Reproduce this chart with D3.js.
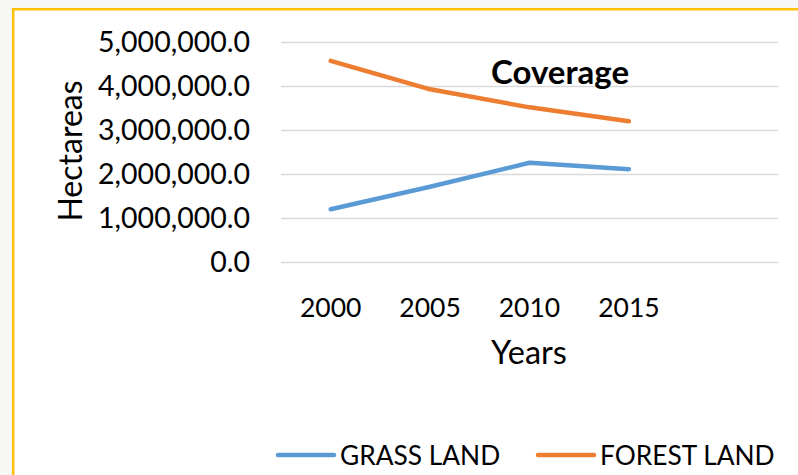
<!DOCTYPE html>
<html>
<head>
<meta charset="utf-8">
<script src="https://cdn.jsdelivr.net/npm/d3@7"></script>
<style>
html,body{margin:0;padding:0;background:#f7f8f5;}
svg{display:block;}
text{font-family:"Lato","Open Sans",sans-serif;fill:#000;}
</style>
</head>
<body>
<script>
const years = ["2000", "2005", "2010", "2015", ""];
const grassLand = [1200000, 1710000, 2255000, 2110000];
const forestLand = [4570000, 3925000, 3515000, 3200000];
const yTicks = [0, 1000000, 2000000, 3000000, 4000000, 5000000];
const seriesNames = ["GRASS LAND", "FOREST LAND"];
const seriesColors = ["#5b9bd5", "#ed7d31"];

const W = 798, H = 475;
const svg = d3.select("body").append("svg").attr("width", W).attr("height", H);

// chart area background & border
svg.append("rect").attr("x", 13.2).attr("y", 9.2).attr("width", W).attr("height", H)
  .attr("fill", "#fff").attr("stroke", "#ffc000").attr("stroke-width", 2.5);

const x = d3.scaleBand().domain(years).range([281, 778]);
const y = d3.scaleLinear().domain([0, 5000000]).range([262, 42]);

// gridlines
svg.append("g").selectAll("line").data(yTicks).join("line")
  .attr("x1", 281).attr("x2", 778)
  .attr("y1", d => Math.round(y(d)) + 0.5).attr("y2", d => Math.round(y(d)) + 0.5)
  .attr("stroke", "#d9d9d9").attr("stroke-width", 1.5);

// y tick labels
const fmt = d3.format(",.1f");
svg.append("g").selectAll("text").data(yTicks).join("text")
  .attr("x", 250).attr("y", d => y(d)).attr("dy", "0.36em")
  .attr("text-anchor", "end").attr("font-size", 28.5)
  .text(d => fmt(d));

// x tick labels
svg.append("g").selectAll("text").data(years.filter(d => d)).join("text")
  .attr("x", d => x(d) + x.bandwidth() / 2).attr("y", 317)
  .attr("text-anchor", "middle").attr("font-size", 26.5)
  .text(d => d);

// axis titles
svg.append("text").attr("x", 529).attr("y", 364).attr("text-anchor", "middle")
  .attr("font-size", 32.5).text("Years");
svg.append("text").attr("transform", "translate(82,151) rotate(-90)")
  .attr("text-anchor", "middle").attr("font-size", 32).text("Hectareas");

// lines
const line = d3.line().x((d, i) => x(years[i]) + x.bandwidth() / 2).y(d => y(d));
[grassLand, forestLand].forEach((s, k) => {
  svg.append("path").datum(s).attr("d", line)
    .attr("fill", "none").attr("stroke", seriesColors[k])
    .attr("stroke-width", 4.5).attr("stroke-linecap", "round").attr("stroke-linejoin", "round");
});

// title
svg.append("text").attr("x", 560).attr("y", 84).attr("text-anchor", "middle")
  .attr("font-size", 33).attr("font-weight", "bold").text("Coverage");

// legend
const legX = [278, 538];
const lg = svg.append("g").selectAll("g").data(seriesNames).join("g")
  .attr("transform", (d, i) => `translate(${legX[i]},0)`);
lg.append("line").attr("x1", 0).attr("x2", 56).attr("y1", 455).attr("y2", 455)
  .attr("stroke", (d, i) => seriesColors[i]).attr("stroke-width", 4.5).attr("stroke-linecap", "round");
lg.append("text").attr("x", 62).attr("y", 465).attr("font-size", 26.3).text(d => d);
</script>
</body>
</html>
